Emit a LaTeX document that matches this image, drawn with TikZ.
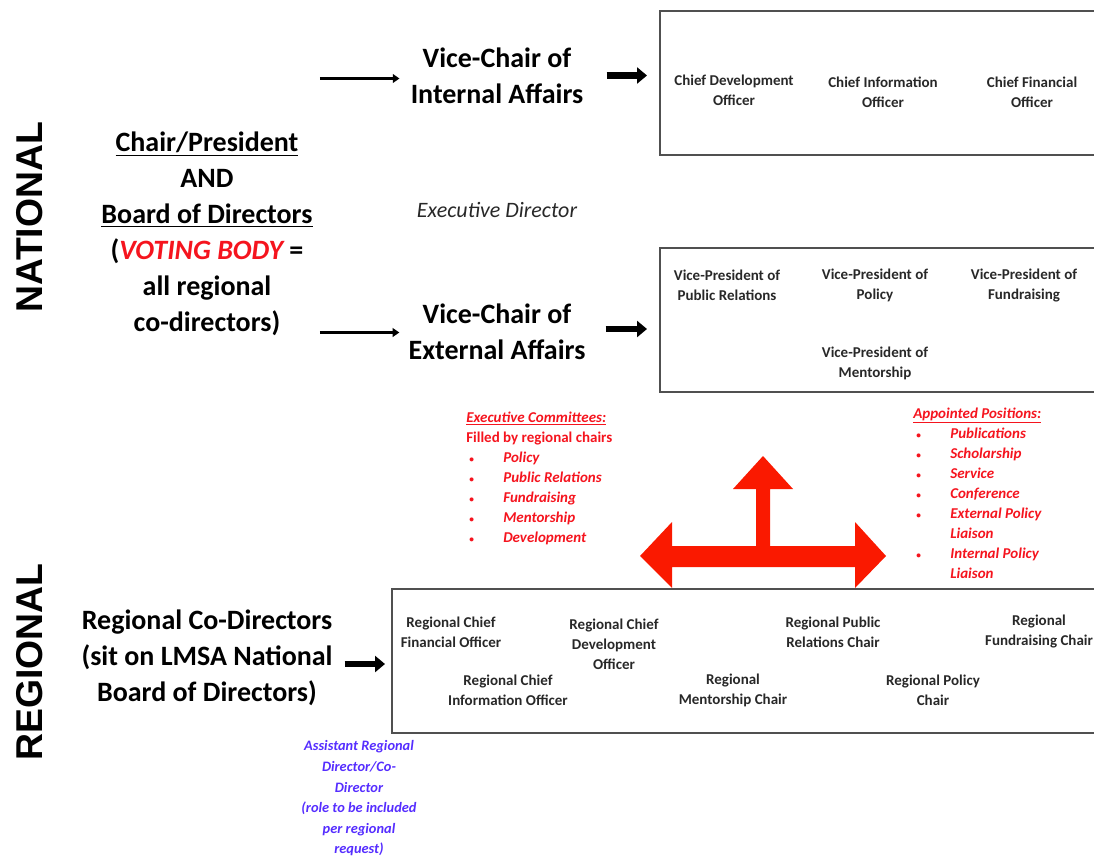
\documentclass[tikz,border=0pt]{standalone}
\usepackage{fontspec}
\setmainfont{Carlito}
\newfontfamily\headfont{Liberation Sans}
\usetikzlibrary{arrows.meta,calc}
\definecolor{arrred}{RGB}{250,25,0}
\definecolor{txtred}{RGB}{245,20,30}
\definecolor{txtblue}{RGB}{85,45,255}
\definecolor{boxgray}{RGB}{80,80,80}
\definecolor{boxtext}{RGB}{40,40,40}
\newcommand{\bul}{\hspace*{2.25pt}\makebox[25.5pt][l]{\upshape\scriptsize\textbullet}}
\begin{document}
\begin{tikzpicture}[x=0.75pt,y=-0.75pt,
  bigtext/.style={font=\bfseries\fontsize{21}{27}\selectfont, align=center, inner sep=0pt},
  sidetitle/.style={font=\headfont\bfseries\fontsize{28}{30}\selectfont, rotate=90, inner sep=0pt},
  boxtxt/.style={font=\bfseries\fontsize{11.25}{15}\selectfont, text=boxtext, align=center, inner sep=0pt},
  redlist/.style={font=\bfseries\itshape\fontsize{11.25}{15}\selectfont, text=txtred, align=left, inner sep=0pt},
  bluenote/.style={font=\bfseries\itshape\fontsize{10.8}{15.45}\selectfont, text=txtblue, align=center, inner sep=0pt},
  orgbox/.style={draw=boxgray, line width=1.5pt, inner sep=0pt},
  thinarr/.style={line width=2.4pt, -{Triangle[length=5pt,width=6.5pt]}},
  thickarr/.style={line width=5pt, -{Triangle[length=7.5pt,width=12pt]}}
]
\useasboundingbox (0,0) rectangle (1094,859);
\clip (0,0) rectangle (1094,859);

% side titles
\node[sidetitle] (nat) at (30,217) {NATIONAL};
\node[sidetitle] (reg) at (30,662) {REGIONAL};

% national column
\node[bigtext] (chair) at (207,234) {\underline{Chair/President}\\AND\\\underline{Board of Directors}\\(\textcolor{txtred}{\itshape VOTING BODY} =\\all regional\\co-directors)};
\node[bigtext] (vci) at (497,75.5) {Vice-Chair of\\Internal Affairs};
\node[bigtext] (vce) at (497,331.5) {Vice-Chair of\\External Affairs};
\node[font=\itshape\fontsize{16.5}{20}\selectfont, text=boxtext, inner sep=0pt] (ed) at (497,210) {Executive Director};

% boxes
\node[orgbox, minimum width=337.5pt, minimum height=108pt] (box1) at (885,83) {};
\node[orgbox, minimum width=337.5pt, minimum height=108pt] (box2) at (885,320) {};
\node[orgbox, minimum width=538.5pt, minimum height=108pt] (rbox) at (751,661) {};

% box 1 contents
\node[boxtxt] (cdo) at (734,90) {Chief Development\\Officer};
\node[boxtxt] (cio) at (883,92) {Chief Information\\Officer};
\node[boxtxt] (cfo) at (1032,92) {Chief Financial\\Officer};

% box 2 contents
\node[boxtxt] (vppr) at (727,285.5) {Vice-President of\\Public Relations};
\node[boxtxt] (vpp) at (875,285.5) {Vice-President of\\Policy};
\node[boxtxt] (vpf) at (1024,285.5) {Vice-President of\\Fundraising};
\node[boxtxt] (vpm) at (875,363) {Vice-President of\\Mentorship};

% connectors national
\draw[thinarr, shorten >=8.25pt] ($(chair.east |- vci.west)+(7,3)$) -- ($(vci.west)+(0,3)$);
\draw[thinarr, shorten >=6.75pt] ($(chair.east |- vce.west)+(7,1)$) -- ($(vce.west)+(0,1)$);
\draw[thickarr] ($(vci.east)+(23,0)$) -- ($(box1.west |- vci.east)+(-12,0)$);
\draw[thickarr] ($(vce.east)+(20,-2.5)$) -- ($(box2.west |- vce.east)+(-12,-2.5)$);

% red lists
\node[redlist, anchor=west] (ecom) at (466,478) {\underline{Executive Committees:}\\\upshape Filled by regional chairs\\\bul Policy\\\bul Public Relations\\\bul Fundraising\\\bul Mentorship\\\bul Development};
\node[redlist, anchor=west] (apos) at (913,493) {\underline{Appointed Positions:}\\\bul Publications\\\bul Scholarship\\\bul Service\\\bul Conference\\\bul External Policy\\\hspace*{27.75pt}Liaison\\\bul Internal Policy\\\hspace*{27.75pt}Liaison};

% red T arrow
\fill[arrred] (640,556) -- (672,522) -- (672,546) -- (756,546) -- (756,489) -- (733,489)
  -- (763,456) -- (793,489) -- (770,489) -- (770,546) -- (855,546) -- (855,522)
  -- (886,556) -- (855,588) -- (855,567) -- (672,567) -- (672,588) -- cycle;

% regional
\node[bigtext] (rcd) at (207,657.5) {Regional Co-Directors\\(sit on LMSA National\\Board of Directors)};
\draw[thickarr] ($(rcd.east)+(12,6.5)$) -- ($(rbox.west |- rcd.east)+(-6,6.5)$);

\node[boxtxt] (rcfo) at (451,632) {Regional Chief\\Financial Officer};
\node[boxtxt] (rcdo) at (614,644) {Regional Chief\\Development\\Officer};
\node[boxtxt] (rpr) at (833,632) {Regional Public\\Relations Chair};
\node[boxtxt] (rfr) at (1039,632) {Regional\\Fundraising Chair};
\node[boxtxt] (rcio) at (508,690) {Regional Chief\\Information Officer};
\node[boxtxt] (rmc) at (733,690) {Regional\\Mentorship Chair};
\node[boxtxt] (rpc) at (933,690) {Regional Policy\\Chair};

\node[bluenote] (ard) at (359,798.5) {Assistant Regional\\Director/Co-\\Director\\(role to be included\\per regional\\request)};
\end{tikzpicture}
\end{document}
